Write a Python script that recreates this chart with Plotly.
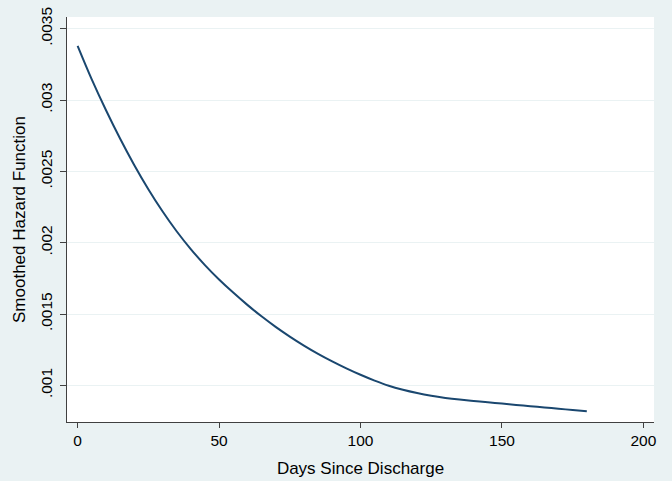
import plotly.graph_objects as go

# smoothed hazard
days = [0, 5, 10, 15, 20, 25, 30, 35, 40, 45, 50, 55, 60, 65, 70, 75, 80, 85, 90,
        95, 100, 105, 110, 115, 120, 125, 130, 135, 140, 145, 150, 155, 160, 165, 170, 175, 180]
hazard = [0.00338, 0.003145, 0.00293, 0.00273, 0.002545, 0.002375, 0.00222, 0.00208, 0.001955,
          0.001843, 0.001742, 0.00165, 0.001564, 0.001484, 0.00141, 0.001342, 0.001279, 0.001221,
          0.001168, 0.001119, 0.001074, 0.001033, 0.000997, 0.000969, 0.000946, 0.000927, 0.000912,
          0.0009, 0.00089, 0.000881, 0.000872, 0.000863, 0.000854, 0.000845, 0.000836,
          0.000827, 0.000818]

xticks = [0, 50, 100, 150, 200]
yticks = [0.001, 0.0015, 0.002, 0.0025, 0.003, 0.0035]
yticklabels = [".001", ".0015", ".002", ".0025", ".003", ".0035"]

bg = "#EAF2F3"
fig = go.Figure()
fig.add_trace(go.Scatter(x=days, y=hazard, mode="lines", line_shape="spline",
                         line=dict(color="#1A476F", width=2), showlegend=False))

fig.update_layout(
    width=672, height=481,
    paper_bgcolor=bg, plot_bgcolor="white",
    margin=dict(l=67, r=18, t=17, b=59),
    font=dict(family="Liberation Sans, Arial, sans-serif", size=14, color="#000000"),
)
fig.update_xaxes(
    range=[-3.75, 203.75], tickvals=xticks, showgrid=False, zeroline=False,
    showline=True, linecolor="#404040", linewidth=1, automargin=False,
    ticks="outside", ticklen=5, tickcolor="#404040",
    tickfont=dict(size=15.5), ticklabelstandoff=-1,
    title=dict(text="Days Since Discharge", standoff=14),
)
fig.update_yaxes(
    range=[0.000743, 0.003582], tickvals=yticks, ticktext=yticklabels, tickangle=-90,
    showgrid=True, gridcolor=bg, gridwidth=1, zeroline=False,
    showline=True, linecolor="#404040", linewidth=1, automargin=False,
    ticks="outside", ticklen=6, tickcolor="#404040",
    tickfont=dict(size=15.5), ticklabelstandoff=2,
    title=dict(text="Smoothed Hazard Function", standoff=7),
)

# drop the page's default body margin so the figure sits at the window corner
fig.write_html("out.html", config={"displayModeBar": False},
               post_script="document.body.style.margin='0';document.body.style.overflow='hidden';")
